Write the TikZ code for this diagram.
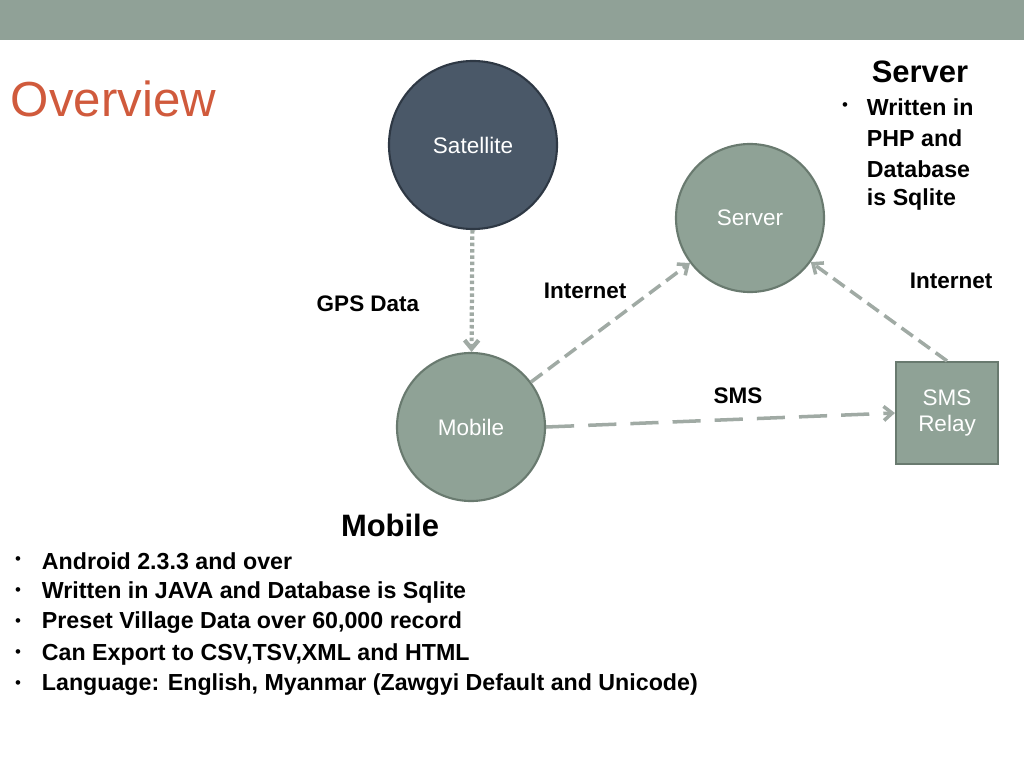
\documentclass[tikz,border=0pt]{standalone}
\usepackage{fontspec}
\setmainfont{Liberation Sans}
\usetikzlibrary{arrows.meta}
\definecolor{band}{RGB}{144,161,151}
\definecolor{sage}{RGB}{143,162,150}
\definecolor{sageline}{RGB}{105,122,111}
\definecolor{slate}{RGB}{74,88,104}
\definecolor{slateline}{RGB}{46,56,68}
\definecolor{title}{RGB}{208,90,60}
\definecolor{linkgray}{RGB}{160,170,164}
\tikzset{
  hub/.style={circle, draw=sageline, line width=1.5pt, fill=sage, text=white, font=\fontsize{16}{19}\selectfont},
  relay/.style={rectangle, draw=sageline, line width=1.5pt, fill=sage, text=white, minimum width=2.55cm, minimum height=2.55cm, align=center, font=\fontsize{16}{19}\selectfont},
  tag/.style={font=\bfseries\fontsize{16}{19}\selectfont},
  bullets/.style={anchor=west, font=\bfseries\fontsize{16.5}{22}\selectfont},
  conn/.style={draw=linkgray, line width=2.5pt, -{Straight Barb[length=6pt,width=10pt]}}
}
\begin{document}
\begin{tikzpicture}[x=0.025cm, y=-0.025cm]
    % Page and band
    \useasboundingbox (0,0) rectangle (1024,768);
    \fill[band] (0,0) rectangle (1024,40);
    \node[anchor=west, text=title, font=\fontsize{35}{40}\selectfont] (ovw) at (6,99) {Overview};

    % Nodes
    \node[hub, fill=slate, draw=slateline, minimum size=4.2cm] (sat) at (473,145) {Satellite};
    \node[hub, minimum size=3.7cm] (srv) at (750,218) {Server};
    \node[hub, minimum size=3.7cm] (mob) at (471,427) {Mobile};
    \node[relay] (sms) at (947,413) {SMS\\Relay};

    % Connectors
    \draw[conn, dotted, line width=3pt] (sat) -- (mob);
    \draw[conn, dash pattern=on 10pt off 5pt] (mob) -- (srv);
    \draw[conn, dash pattern=on 10pt off 5pt] (sms.north) -- (srv);
    \draw[conn, dash pattern=on 20pt off 10pt] (mob.east) -- (sms.west);

    % Labels
    \node[tag] (gps) at (368,304) {GPS Data};
    \node[tag] (inet1) at (585,291) {Internet};
    \node[tag] (inet2) at (951,281) {Internet};
    \node[tag] (smst) at (738,396) {SMS};

    % Server notes
    \node[font=\bfseries\fontsize{22}{26}\selectfont] (srvh) at (920,72) {Server};
    \foreach \y/\t in {107/Written in, 138/PHP and, 169/Database, 200/is Sqlite}
        \node[bullets] at (862,\y) {\t};
    \node[font=\fontsize{12}{14}\selectfont] (b0) at (845,107) {•};

    % Mobile notes
    \node[font=\bfseries\fontsize{22}{26}\selectfont] (mobh) at (390,525) {Mobile};
    \foreach \y/\t in {561/Android 2.3.3 and over, 592/Written in JAVA and Database is Sqlite, 623/Preset Village Data over 60{,}000 record, 654/Can Export to CSV{,}TSV{,}XML and HTML, 685/{Language: English, Myanmar (Zawgyi Default and Unicode)}} {
        \node[bullets] at (37,\y) {\t};
        \node[font=\fontsize{12}{14}\selectfont] at (18,\y) {•};
    }
\end{tikzpicture}
\end{document}
